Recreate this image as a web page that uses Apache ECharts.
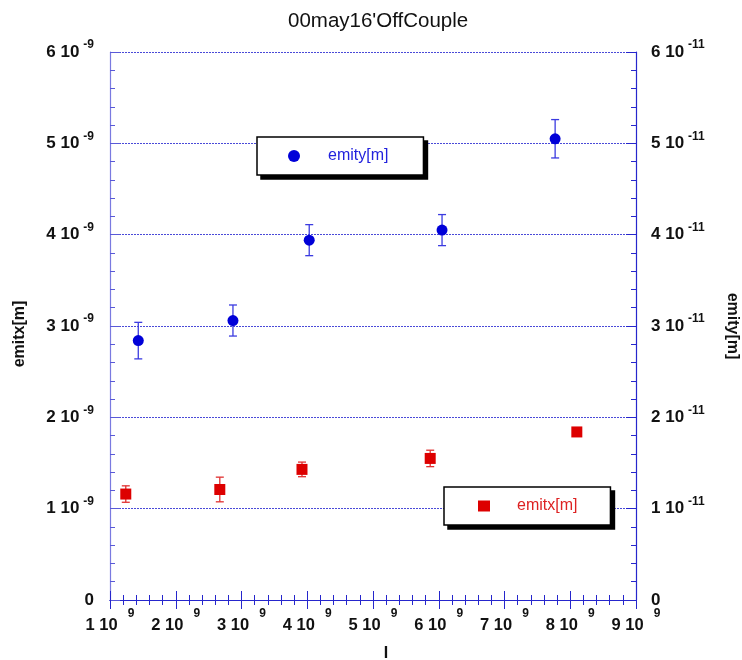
<!DOCTYPE html>
<html>
<head>
<meta charset="utf-8">
<script src="https://cdn.jsdelivr.net/npm/echarts@6/dist/echarts.min.js"></script>
<style>
  html, body { margin: 0; padding: 0; background: #fff; }
  #myChart { width: 742px; height: 660px; }
</style>
</head>
<body>
<div id="myChart"></div>
<script>
  // x in units of 1e9, emity in 1e-11, emitx in 1e-9
  var emityX = [1.43, 2.87, 4.03, 6.05, 7.77]
  var emityY = [2.84, 3.06, 3.94, 4.05, 5.05]
  var emityErr = [0.20, 0.17, 0.17, 0.17, 0.21]
  var emitxX = [1.24, 2.67, 3.92, 5.87, 8.10]
  var emitxY = [1.16, 1.21, 1.43, 1.55, 1.84]
  var emitxErr = [0.09, 0.135, 0.08, 0.09, 0.03]
  var xTicks = [1, 2, 3, 4, 5, 6, 7, 8, 9] // x 10^9
  var yTicks = [0, 1, 2, 3, 4, 5, 6]

  var FONT = 'Liberation Sans'
  var BLUE = '#0000d8'
  var RED = '#dd0000'
  var AXIS = '#2626cc'

  function pts(xs, ys) {
    return xs.map(function (x, i) { return [x, ys[i]] })
  }
  function bars(xs, ys, es) {
    return xs.map(function (x, i) { return [x, ys[i] - es[i], ys[i] + es[i]] })
  }
  function errItem(color) {
    return function (params, api) {
      var x = api.value(0)
      var top = api.coord([x, api.value(2)])
      var bot = api.coord([x, api.value(1)])
      var w = 4
      var st = { stroke: color, lineWidth: 1.3 }
      return {
        type: 'group',
        children: [
          { type: 'line', shape: { x1: top[0], y1: top[1], x2: bot[0], y2: bot[1] }, style: st },
          { type: 'line', shape: { x1: top[0] - w, y1: top[1], x2: top[0] + w, y2: top[1] }, style: st },
          { type: 'line', shape: { x1: bot[0] - w, y1: bot[1], x2: bot[0] + w, y2: bot[1] }, style: st }
        ]
      }
    }
  }

  var richLabel = {
    m: { fontFamily: FONT, fontSize: 17, fontWeight: 'bold', color: '#111' },
    mx: { fontFamily: FONT, fontSize: 16.5, fontWeight: 'bold', color: '#111' },
    e: { fontFamily: FONT, fontSize: 12, fontWeight: 'bold', color: '#111', padding: [0, 0, 14, 4] },
    ex: { fontFamily: FONT, fontSize: 12, fontWeight: 'bold', color: '#111', padding: [0, 0, 22, 10] }
  }

  function yLabel(exp) {
    return function (v) {
      if (v === 0) return '{m|0}'
      return '{m|' + v + ' 10}{e|' + exp + '}'
    }
  }

  // legend box plus a black copy behind it acting as the drop shadow
  function legendBox(name, left, top, icon, pad, txtPad, color, iconColor, shadow) {
    return {
      data: [name],
      left: shadow ? left + 4 : left,
      top: shadow ? top + 4 : top,
      z: shadow ? 5 : 6,
      icon: icon,
      itemWidth: 12,
      itemHeight: icon === 'rect' ? 11 : 12,
      padding: pad,
      selectedMode: false,
      backgroundColor: shadow ? '#000' : '#fff',
      borderColor: '#000',
      borderWidth: 1.5,
      borderRadius: 0,
      itemStyle: { color: shadow ? '#000' : iconColor },
      textStyle: { fontFamily: FONT, fontSize: 16, color: shadow ? '#000' : color, padding: [0, 0, 0, txtPad] }
    }
  }

  var myChart = echarts.init(document.getElementById('myChart'))
  var option = {
    animation: false,
    title: {
      text: "00may16'OffCouple",
      left: 283,
      top: 6,
      textStyle: { fontFamily: FONT, fontSize: 20.5, fontWeight: 'normal', color: '#111' }
    },
    grid: { left: 110, right: 106, top: 52, bottom: 60, outerBoundsMode: 'none', containLabel: false },
    legend: [
      legendBox('emity[m]', 257, 137, 'circle', [11, 35, 11, 31], 23, '#2222dd', BLUE, true),
      legendBox('emity[m]', 257, 137, 'circle', [11, 35, 11, 31], 23, '#2222dd', BLUE, false),
      legendBox('emitx[m]', 444, 487, 'rect', [11, 33, 11, 34], 22, '#dd2222', RED, true),
      legendBox('emitx[m]', 444, 487, 'rect', [11, 33, 11, 34], 22, '#dd2222', RED, false)
    ],
    xAxis: [{
      type: 'value',
      position: 'bottom',
      min: xTicks[0],
      max: xTicks[xTicks.length - 1],
      interval: 1,
      name: 'I',
      nameLocation: 'middle',
      nameGap: 46,
      nameTextStyle: { fontFamily: FONT, fontSize: 16, fontWeight: 'bold', color: '#111', padding: [0, 0, 0, 26] },
      axisLine: { lineStyle: { color: AXIS, width: 1.2 } },
      axisTick: { inside: true, length: 9, lineStyle: { color: AXIS } },
      minorTick: { show: true, splitNumber: 5, length: 5, lineStyle: { color: AXIS } },
      splitLine: { show: false },
      axisLabel: {
        margin: 8,
        formatter: function (v) { return '{mx|' + v + ' 10}{ex|9}' },
        rich: richLabel
      }
    }, {
      type: 'value',
      position: 'top',
      min: xTicks[0],
      max: xTicks[xTicks.length - 1],
      interval: 1,
      axisLine: { lineStyle: { color: AXIS, width: 1.2 } },
      axisTick: { inside: true, length: 9, lineStyle: { color: AXIS } },
      minorTick: { show: true, splitNumber: 5, length: 5, lineStyle: { color: AXIS } },
      splitLine: { show: false },
      axisLabel: { show: false }
    }],
    yAxis: [{
      type: 'value',
      position: 'left',
      min: yTicks[0],
      max: yTicks[yTicks.length - 1],
      interval: 1,
      name: 'emitx[m]',
      nameLocation: 'middle',
      nameGap: 82,
      nameTextStyle: { fontFamily: FONT, fontSize: 16, fontWeight: 'bold', color: '#111', padding: [0, 16, 0, 0] },
      axisLine: { show: true, lineStyle: { color: '#7a7ae0', width: 1.2 } },
      axisTick: { inside: true, length: 10, lineStyle: { color: '#5a5ad8' } },
      minorTick: { show: true, splitNumber: 5, length: 5, lineStyle: { color: '#5a5ad8' } },
      splitLine: { show: true, lineStyle: { color: '#4a4ad8', width: 1, type: [2, 1] } },
      axisLabel: { margin: 16, formatter: yLabel('-9'), rich: richLabel }
    }, {
      type: 'value',
      position: 'right',
      min: yTicks[0],
      max: yTicks[yTicks.length - 1],
      interval: 1,
      name: 'emity[m]',
      nameLocation: 'middle',
      nameGap: 88,
      nameRotate: -90,
      nameTextStyle: { fontFamily: FONT, fontSize: 16, fontWeight: 'bold', color: '#111' },
      axisLine: { show: true, lineStyle: { color: AXIS, width: 1.2 } },
      axisTick: { inside: true, length: 10, lineStyle: { color: AXIS } },
      minorTick: { show: true, splitNumber: 5, length: 5, lineStyle: { color: AXIS } },
      splitLine: { show: false },
      axisLabel: { margin: 15, formatter: yLabel('-11'), rich: richLabel }
    }],
    series: [{
      name: 'emity err',
      type: 'custom',
      yAxisIndex: 1,
      renderItem: errItem('#3b3be0'),
      encode: { x: 0, y: [1, 2] },
      data: bars(emityX, emityY, emityErr),
      z: 2
    }, {
      name: 'emitx err',
      type: 'custom',
      yAxisIndex: 0,
      renderItem: errItem('#e03030'),
      encode: { x: 0, y: [1, 2] },
      data: bars(emitxX, emitxY, emitxErr),
      z: 2
    }, {
      name: 'emity[m]',
      type: 'scatter',
      yAxisIndex: 1,
      symbol: 'circle',
      symbolSize: 11,
      itemStyle: { color: BLUE, opacity: 1 },
      data: pts(emityX, emityY),
      z: 3
    }, {
      name: 'emitx[m]',
      type: 'scatter',
      yAxisIndex: 0,
      symbol: 'rect',
      symbolSize: 11,
      itemStyle: { color: RED, opacity: 1 },
      data: pts(emitxX, emitxY),
      z: 3
    }]
  }
  myChart.setOption(option)
</script>
</body>
</html>
